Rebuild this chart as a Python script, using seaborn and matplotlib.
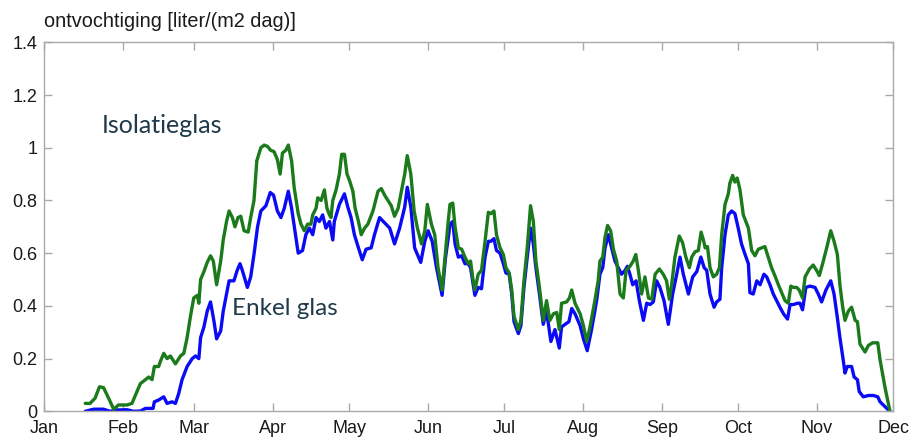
import numpy as np
import pandas as pd
import matplotlib
matplotlib.use("Agg")
import matplotlib.pyplot as plt
import seaborn as sns

# Daily dehumidification demand, day of year (0 = 1 Jan) and litres per m2 per day
iso_day = [16.1, 18.0, 20.0, 21.7, 23.3, 25.3, 27.3, 29.2, 32.5, 34.5, 35.8, 37.8, 39.8, 41.1,
           42.4, 43.3, 45.0, 45.7, 47.0, 48.3, 49.6, 51.6, 53.6, 54.9, 56.2, 57.5, 58.8, 60.2,
           60.8, 61.5, 62.8, 64.1, 65.4, 66.5, 67.8, 69.4, 70.4, 71.7, 72.7, 74.0, 75.0, 76.2,
           77.3, 78.6, 80.2, 81.2, 82.5, 83.6, 85.2, 86.5, 87.8, 89.1, 90.4, 91.7, 92.8, 93.7,
           95.0, 96.0, 97.3, 98.3, 99.9, 101.0, 102.3, 103.6, 104.9, 105.6, 106.9, 107.6, 108.9,
           110.2, 111.2, 112.2, 112.8, 113.5, 114.8, 116.1, 117.0, 118.1, 119.1, 120.1, 121.4,
           122.3, 123.6, 124.7, 126.0, 127.3, 129.3, 131.3, 132.6, 133.9, 135.2, 136.5, 137.8,
           139.2, 140.5, 141.8, 142.8, 144.2, 145.5, 146.8, 148.4, 149.7, 150.7, 152.3, 153.6,
           154.9, 156.5, 157.8, 158.9,
           159.6, 160.7, 161.6, 162.9, 164.2, 165.5, 166.8, 167.7, 168.5, 169.4, 170.7, 172.0,
           173.4, 174.7, 175.7, 176.9, 177.9, 179.3, 180.6, 181.6, 182.9, 183.9, 184.8, 186.5,
           187.5, 188.7, 190.0, 191.3, 192.4, 193.4, 194.8, 196.3, 197.6, 198.9, 200.3, 201.6,
           202.6, 203.5, 205.5, 206.6, 207.5, 208.8, 210.8, 212.1, 213.4, 214.7, 216.6, 217.9,
           218.6, 219.7, 220.6, 221.6, 222.8, 223.9, 225.2, 226.5, 227.8, 228.9, 230.4, 231.7,
           232.7, 233.7, 235.0, 236.3, 237.7, 239.0, 240.3, 242.0, 243.5, 244.8, 245.9, 246.8,
           248.1, 249.8, 251.1, 252.4, 253.8, 254.7, 256.0, 257.3, 258.4, 259.3, 260.0, 260.9,
           261.9, 263.2, 264.5, 265.6, 266.5, 267.8, 269.1, 269.7, 270.8, 271.7, 272.6, 273.7,
           275.0, 276.0, 277.0, 278.3, 279.6, 280.9, 282.2, 283.5, 284.8, 286.1, 287.4, 288.8,
           290.1, 291.4, 292.7, 293.7, 294.7, 296.0, 297.0, 298.3, 299.3, 301.0, 302.5, 303.8,
           304.9, 306.2, 307.8, 309.4, 310.7, 312.0, 313.0, 314.1, 315.0, 316.3, 317.6, 319.0,
           319.9, 320.9, 322.9, 324.2, 325.9, 327.9, 328.8, 330.7, 332.7]
iso_val = [0.03, 0.03, 0.05, 0.093, 0.09, 0.05, 0.008, 0.024, 0.024, 0.03, 0.06, 0.105, 0.12, 0.13,
           0.12, 0.17, 0.17, 0.19, 0.22, 0.20, 0.21, 0.18, 0.21, 0.22, 0.28, 0.36, 0.43, 0.44,
           0.41, 0.50, 0.53, 0.565, 0.59, 0.57, 0.48, 0.57, 0.65, 0.72, 0.76, 0.735, 0.70, 0.735,
           0.74, 0.685, 0.68, 0.735, 0.80, 0.95, 1.0, 1.01, 1.005, 0.99, 0.985, 0.955, 0.90, 0.98,
           0.99, 1.01, 0.95, 0.85, 0.75, 0.71, 0.685, 0.71, 0.71, 0.745, 0.77, 0.81, 0.80,
           0.84, 0.77, 0.745, 0.735, 0.80, 0.84, 0.90, 0.975, 0.975, 0.90, 0.875, 0.835,
           0.77, 0.72, 0.67, 0.695, 0.71, 0.76, 0.835, 0.845, 0.82, 0.80, 0.78, 0.74,
           0.77, 0.835, 0.90, 0.97, 0.90, 0.76, 0.695, 0.635, 0.685, 0.785, 0.71, 0.67,
           0.545, 0.46, 0.60, 0.72,
           0.785, 0.79, 0.70, 0.62, 0.615, 0.585, 0.56, 0.57, 0.51, 0.46, 0.52, 0.535,
           0.645, 0.755, 0.75, 0.76, 0.67, 0.62, 0.595, 0.545, 0.525, 0.46, 0.36, 0.31,
           0.345, 0.495, 0.62, 0.78, 0.72, 0.57, 0.47, 0.345, 0.42, 0.345, 0.37, 0.375,
           0.31, 0.41, 0.415, 0.43, 0.46, 0.41, 0.37, 0.325, 0.265, 0.32, 0.42, 0.495,
           0.57, 0.585, 0.66, 0.705, 0.685, 0.615, 0.57, 0.445, 0.43, 0.535, 0.55, 0.57,
           0.595, 0.535, 0.445, 0.51, 0.43, 0.425, 0.52, 0.54, 0.52, 0.495, 0.425, 0.48,
           0.585, 0.665, 0.64, 0.585, 0.545, 0.585, 0.605, 0.61, 0.68, 0.65, 0.62, 0.625,
           0.545, 0.51, 0.52, 0.545, 0.67, 0.785, 0.825, 0.865, 0.895, 0.87, 0.885, 0.84,
           0.745, 0.72, 0.695, 0.61, 0.59, 0.615, 0.62, 0.625, 0.585, 0.545, 0.515, 0.48,
           0.45, 0.42, 0.41, 0.475, 0.47, 0.47, 0.46, 0.43, 0.51, 0.54, 0.555, 0.535,
           0.515, 0.56, 0.62, 0.685, 0.645, 0.595, 0.48, 0.395, 0.345, 0.38, 0.395, 0.345,
           0.34, 0.255, 0.225, 0.25, 0.26, 0.26, 0.195, 0.093, 0.0]

enkel_day = [16.1, 19.4, 23.3, 25.9, 28.6, 32.5, 35.2, 37.8, 39.8, 42.8, 43.3, 45.0, 47.0, 48.3,
             50.3, 51.6, 52.9, 54.2, 56.2, 58.2, 59.5, 60.8, 61.5, 62.8, 64.1, 65.4, 66.7, 67.8,
             69.4, 70.4, 71.7, 72.7, 74.6, 75.9, 77.0, 77.9, 79.9, 81.2, 82.5, 83.9, 85.2, 87.2,
             88.9, 90.2, 91.7, 93.1, 94.4, 96.0, 97.3, 98.6, 99.9, 101.6, 102.9, 104.3, 105.6,
             106.9, 108.2, 109.5, 110.8, 112.2, 113.5, 114.1, 116.1, 118.1, 119.4, 120.7, 122.0,
             123.6, 125.1, 126.6, 128.6, 129.9, 131.9, 133.9, 135.9, 137.8, 139.8, 141.8, 142.8,
             144.2, 145.7, 148.1, 149.7, 151.0, 152.6, 154.3, 156.5, 157.8, 159.1,
             159.6, 160.7, 161.6, 162.9, 164.2, 165.5, 166.8, 167.7, 168.5, 169.4, 170.7, 172.0,
             173.4, 174.7, 175.7, 176.9, 177.9, 179.3, 180.6, 181.6, 182.9, 183.9, 184.8, 186.5,
             187.5, 188.7, 190.0, 191.3, 192.4, 193.4, 194.8, 196.3, 197.6, 199.3, 200.9, 202.6,
             203.5, 204.9, 206.4, 207.5, 208.8, 210.8, 212.1, 213.6, 215.3, 217.3, 218.6, 219.7,
             220.6, 221.9, 223.2, 224.5, 225.8, 227.1, 228.5, 229.4, 230.4, 231.5, 232.8, 234.1,
             235.7, 237.0, 238.3, 239.6, 240.9, 242.2, 243.8, 245.5, 247.2, 248.8, 250.1, 251.4,
             253.4, 255.1, 256.7, 258.3, 259.6, 260.6, 261.9, 263.5, 264.5, 265.8, 266.5, 267.8,
             269.1, 270.4, 271.7, 273.0, 274.3, 275.7, 277.0, 277.6, 278.9, 280.3, 281.6, 283.1,
             284.2, 285.5, 286.8, 288.1, 289.4, 290.8, 292.4, 293.4, 294.7, 296.3, 297.3, 298.3,
             299.6, 301.2, 303.2, 304.5, 305.8, 307.5, 309.4, 310.7, 312.0, 313.0, 314.3, 315.0,
             315.9, 317.6, 318.6, 319.9, 320.6, 322.2, 324.2, 326.2, 327.9, 328.8, 330.7, 332.7]
enkel_val = [0.0, 0.008, 0.008, 0.0, 0.005, 0.006, 0.0, 0.001, 0.011, 0.011, 0.036, 0.043, 0.055, 0.03,
             0.036, 0.03, 0.068, 0.12, 0.17, 0.20, 0.21, 0.20, 0.28, 0.32, 0.38, 0.415, 0.345, 0.275,
             0.305, 0.38, 0.445, 0.495, 0.495, 0.535, 0.56, 0.535, 0.47, 0.51, 0.595, 0.70, 0.76, 0.78,
             0.83, 0.82, 0.76, 0.735, 0.77, 0.835, 0.77, 0.685, 0.60, 0.61, 0.67, 0.695, 0.67,
             0.735, 0.72, 0.745, 0.695, 0.72, 0.65, 0.72, 0.785, 0.825, 0.775, 0.735, 0.67,
             0.62, 0.575, 0.615, 0.62, 0.67, 0.735, 0.715, 0.695, 0.635, 0.695, 0.775, 0.85,
             0.775, 0.62, 0.565, 0.645, 0.685, 0.645, 0.545, 0.44, 0.58, 0.67,
             0.71, 0.72, 0.635, 0.585, 0.59, 0.56, 0.56, 0.545, 0.495, 0.44, 0.47, 0.465,
             0.585, 0.645, 0.645, 0.655, 0.61, 0.60, 0.56, 0.525, 0.52, 0.445, 0.34, 0.295,
             0.325, 0.47, 0.585, 0.695, 0.635, 0.545, 0.445, 0.33, 0.38, 0.265, 0.31, 0.24,
             0.32, 0.33, 0.34, 0.39, 0.37, 0.325, 0.275, 0.23, 0.31, 0.42, 0.52, 0.545,
             0.62, 0.67, 0.62, 0.57, 0.545, 0.52, 0.535, 0.55, 0.52, 0.48, 0.495, 0.42,
             0.345, 0.41, 0.405, 0.415, 0.495, 0.47, 0.42, 0.33, 0.445, 0.52, 0.585, 0.52,
             0.445, 0.51, 0.53, 0.585, 0.545, 0.535, 0.445, 0.395, 0.415, 0.425, 0.545, 0.67,
             0.745, 0.76, 0.75, 0.695, 0.635, 0.595, 0.56, 0.45, 0.445, 0.495, 0.48, 0.52,
             0.51, 0.48, 0.445, 0.42, 0.395, 0.37, 0.35, 0.405, 0.405, 0.41, 0.41, 0.385,
             0.47, 0.475, 0.47, 0.445, 0.415, 0.46, 0.495, 0.445, 0.355, 0.28, 0.195, 0.145,
             0.17, 0.17, 0.13, 0.12, 0.075, 0.055, 0.06, 0.06, 0.055, 0.036, 0.018, 0.0]

month_start = [0, 31, 59, 90, 120, 151, 181, 212, 243, 273, 304, 334]
month_labels = ["Jan", "Feb", "Mar", "Apr", "May", "Jun", "Jul", "Aug", "Sep", "Oct", "Nov", "Dec"]
y_ticks = [0, 0.2, 0.4, 0.6, 0.8, 1.0, 1.2, 1.4]
y_labels = ["0", "0.2", "0.4", "0.6", "0.8", "1", "1.2", "1.4"]

series_names = ["Enkel glas", "Isolatieglas"]
series_colors = {"Enkel glas": "#0a0af5", "Isolatieglas": "#1b7a1b"}

df = pd.concat([
    pd.DataFrame({"dag": enkel_day, "ontvochtiging": enkel_val, "glas": "Enkel glas"}),
    pd.DataFrame({"dag": iso_day, "ontvochtiging": iso_val, "glas": "Isolatieglas"}),
], ignore_index=True)

sns.set_theme(style="ticks")
plt.rcParams["font.family"] = ["Liberation Sans", "DejaVu Sans"]

fig = plt.figure(figsize=(9.13, 4.40), dpi=100)
ax = fig.add_axes([0.0485, 0.0652, 0.9299, 0.8387])

sns.lineplot(data=df, x="dag", y="ontvochtiging", hue="glas", hue_order=series_names,
             palette=series_colors, estimator=None, sort=False, linewidth=2.4,
             legend=False, ax=ax)

ax.set_xlim(0, 334)
ax.set_ylim(0, 1.4)
ax.set_xticks(month_start)
ax.set_xticklabels(month_labels)
ax.set_yticks(y_ticks)
ax.set_yticklabels(y_labels)
ax.set_xlabel("")
ax.set_ylabel("")

frame_gray = "#a9a9a9"
for side in ["left", "right", "top", "bottom"]:
    ax.spines[side].set_visible(True)
    ax.spines[side].set_color(frame_gray)
    ax.spines[side].set_linewidth(1.0)
ax.tick_params(axis="both", which="major", direction="in", length=6, width=1.0,
               color=frame_gray, labelsize=13, labelcolor="#1a1a1a",
               top=True, right=True)
ax.tick_params(axis="x", pad=6)
ax.tick_params(axis="y", pad=5)

fig.text(0.048, 0.939, "ontvochtiging [liter/(m2 dag)]", fontsize=14.3,
         color="#1a1a1a", ha="left", va="baseline")

label_color = "#1f3a4a"
ax.text(22.6, 1.086, "Isolatieglas", fontsize=18, color=label_color,
        family=["Lato", "DejaVu Sans"], ha="left", va="center")
ax.text(74.0, 0.39, "Enkel glas", fontsize=17.5, color=label_color,
        family=["Lato", "DejaVu Sans"], ha="left", va="center")

fig.savefig("out.png", dpi=100, facecolor="white")
